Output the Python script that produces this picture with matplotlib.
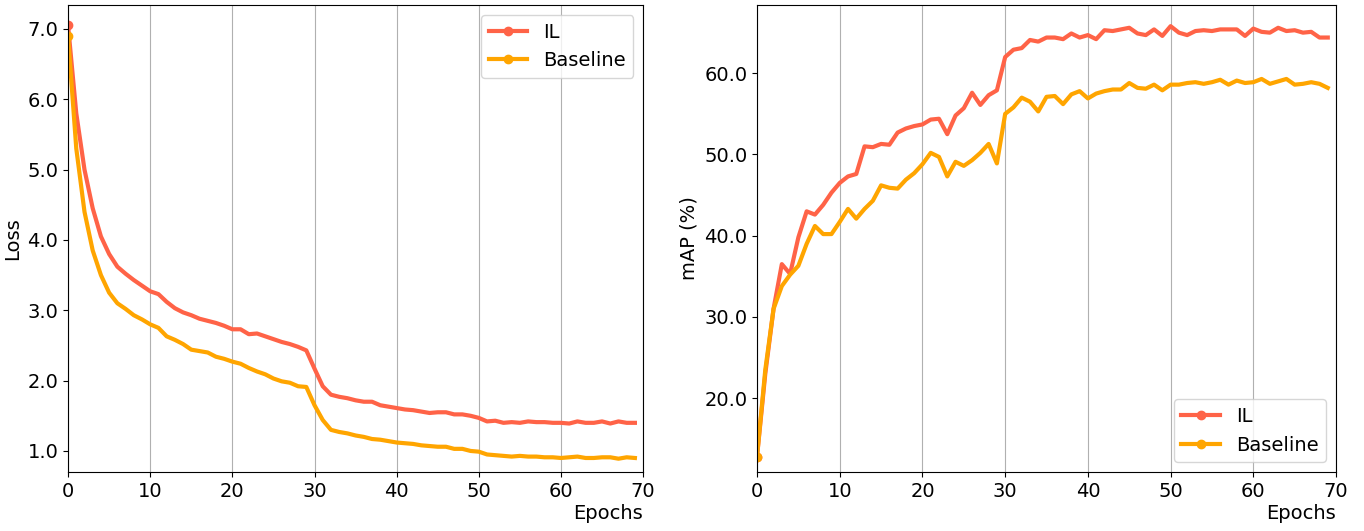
import numpy as np
import matplotlib
matplotlib.use('Agg')
import matplotlib.pyplot as plt
from matplotlib.ticker import FormatStrFormatter

epochs = np.arange(70)

loss_il = [7.05, 5.8, 5.0, 4.45, 4.05, 3.8, 3.62, 3.52, 3.43, 3.35,
           3.27, 3.23, 3.12, 3.03, 2.97, 2.93, 2.88, 2.85, 2.82, 2.78,
           2.73, 2.73, 2.66, 2.67, 2.63, 2.59, 2.55, 2.52, 2.48, 2.43,
           2.17, 1.92, 1.80, 1.77, 1.75, 1.72, 1.70, 1.70, 1.65, 1.63,
           1.61, 1.59, 1.58, 1.56, 1.54, 1.55, 1.55, 1.52, 1.52, 1.50,
           1.47, 1.42, 1.43, 1.40, 1.41, 1.40, 1.42, 1.41, 1.41, 1.40,
           1.40, 1.39, 1.42, 1.40, 1.40, 1.42, 1.39, 1.42, 1.40, 1.40]
loss_base = [6.9, 5.3, 4.4, 3.85, 3.5, 3.25, 3.1, 3.02, 2.93, 2.87,
             2.8, 2.75, 2.63, 2.58, 2.52, 2.44, 2.42, 2.40, 2.34, 2.31,
             2.27, 2.24, 2.18, 2.13, 2.09, 2.03, 1.99, 1.97, 1.92, 1.91,
             1.65, 1.44, 1.30, 1.27, 1.25, 1.22, 1.20, 1.17, 1.16, 1.14,
             1.12, 1.11, 1.10, 1.08, 1.07, 1.06, 1.06, 1.03, 1.03, 1.00,
             0.99, 0.95, 0.94, 0.93, 0.92, 0.93, 0.92, 0.92, 0.91, 0.91,
             0.90, 0.91, 0.92, 0.90, 0.90, 0.91, 0.91, 0.89, 0.91, 0.90]

map_il = [12.8, 23.0, 31.0, 36.5, 35.3, 39.8, 43.0, 42.6, 43.8, 45.3,
          46.5, 47.3, 47.6, 51.0, 50.9, 51.3, 51.2, 52.7, 53.2, 53.5,
          53.7, 54.3, 54.4, 52.5, 54.8, 55.7, 57.6, 56.1, 57.3, 57.9,
          62.0, 62.9, 63.1, 64.1, 63.9, 64.4, 64.4, 64.2, 64.9, 64.4,
          64.7, 64.2, 65.3, 65.2, 65.4, 65.6, 64.9, 64.7, 65.4, 64.6,
          65.8, 65.0, 64.7, 65.2, 65.3, 65.2, 65.4, 65.4, 65.4, 64.6,
          65.5, 65.1, 65.0, 65.6, 65.2, 65.3, 65.0, 65.1, 64.4, 64.4]
map_base = [12.8, 23.5, 31.0, 33.8, 35.2, 36.3, 39.0, 41.2, 40.2, 40.2,
            41.7, 43.3, 42.1, 43.3, 44.3, 46.2, 45.9, 45.8, 46.9, 47.7,
            48.8, 50.2, 49.7, 47.3, 49.1, 48.6, 49.3, 50.2, 51.3, 48.9,
            55.0, 55.8, 57.0, 56.5, 55.3, 57.1, 57.2, 56.2, 57.4, 57.8,
            56.9, 57.5, 57.8, 58.0, 58.0, 58.8, 58.2, 58.1, 58.6, 57.9,
            58.6, 58.6, 58.8, 58.9, 58.7, 58.9, 59.2, 58.6, 59.1, 58.8,
            58.9, 59.3, 58.7, 59.0, 59.3, 58.6, 58.7, 58.9, 58.7, 58.2]

plt.rcParams['font.size'] = 14

fig = plt.figure(figsize=(13.64, 5.31), dpi=100)
ax1 = fig.add_axes([0.0499, 0.111, 0.4216, 0.8795])
ax2 = fig.add_axes([0.555, 0.111, 0.4245, 0.8795])

for ax, il, base, ylabel, loc in [(ax1, loss_il, loss_base, 'Loss', 'upper right'),
                                  (ax2, map_il, map_base, 'mAP (%)', 'lower right')]:
    ax.plot(epochs, il, color='tomato', lw=3, marker='o', markevery=[0], label='IL')
    ax.plot(epochs, base, color='orange', lw=3, marker='o', markevery=[0], label='Baseline')
    ax.set_xlim(0, 70)
    ax.grid(axis='x', color='#b0b0b0')
    ax.yaxis.set_major_formatter(FormatStrFormatter('%.1f'))
    ax.set_ylabel(ylabel)
    ax.set_xlabel('Epochs', loc='right', labelpad=2)
    ax.legend(loc=loc)

ax1.set_ylim(0.7, 7.34)
ax2.set_ylim(10.9, 68.4)
ax2.set_yticks([20, 30, 40, 50, 60])

fig.savefig('out.png')
